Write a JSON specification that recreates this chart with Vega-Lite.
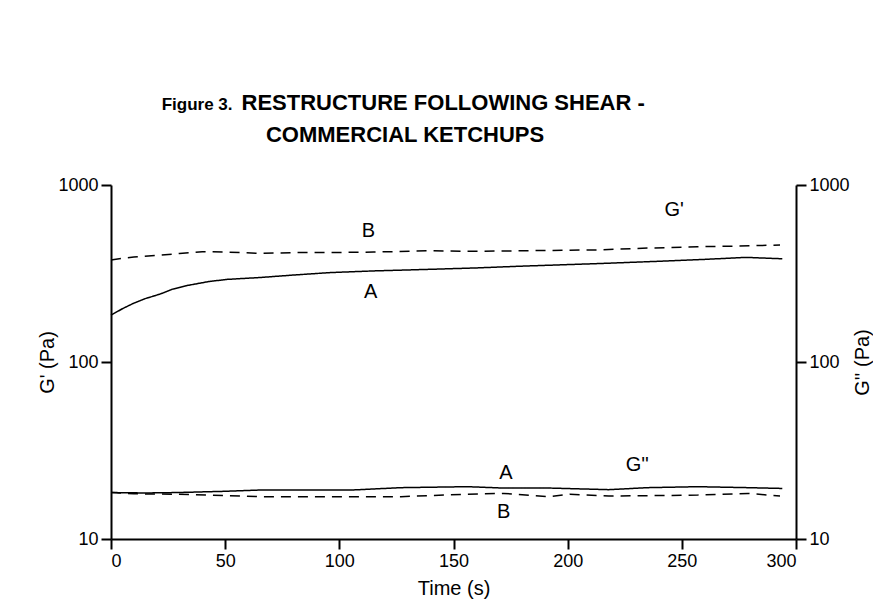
{
  "$schema": "https://vega.github.io/schema/vega-lite/v6.json",
  "width": 685,
  "height": 354,
  "autosize": {"type": "none"},
  "padding": {"left": 111, "top": 185, "right": 77, "bottom": 77},
  "background": "white",
  "config": {
    "view": {"stroke": null},
    "font": "Liberation Sans",
    "axis": {
      "domainColor": "black", "domainWidth": 2,
      "tickColor": "black", "tickWidth": 2, "tickSize": 10,
      "labelFont": "Liberation Sans", "labelFontSize": 18, "labelColor": "black", "labelPadding": 3,
      "titleFont": "Liberation Sans", "titleFontSize": 20, "titleFontWeight": "normal", "titleColor": "black",
      "grid": false
    }
  },
  "datasets": {
    "curves": [
      {"modulus": "storage", "sample": "A", "t": 0, "v": 184},
      {"modulus": "storage", "sample": "A", "t": 5, "v": 200},
      {"modulus": "storage", "sample": "A", "t": 10, "v": 215},
      {"modulus": "storage", "sample": "A", "t": 15, "v": 228},
      {"modulus": "storage", "sample": "A", "t": 21.5, "v": 242},
      {"modulus": "storage", "sample": "A", "t": 27, "v": 258},
      {"modulus": "storage", "sample": "A", "t": 33, "v": 270},
      {"modulus": "storage", "sample": "A", "t": 43, "v": 285},
      {"modulus": "storage", "sample": "A", "t": 51, "v": 293},
      {"modulus": "storage", "sample": "A", "t": 65, "v": 300},
      {"modulus": "storage", "sample": "A", "t": 80, "v": 310},
      {"modulus": "storage", "sample": "A", "t": 96, "v": 320},
      {"modulus": "storage", "sample": "A", "t": 115, "v": 327},
      {"modulus": "storage", "sample": "A", "t": 140, "v": 334},
      {"modulus": "storage", "sample": "A", "t": 160, "v": 340},
      {"modulus": "storage", "sample": "A", "t": 180, "v": 348},
      {"modulus": "storage", "sample": "A", "t": 200, "v": 355},
      {"modulus": "storage", "sample": "A", "t": 214, "v": 360},
      {"modulus": "storage", "sample": "A", "t": 243, "v": 372},
      {"modulus": "storage", "sample": "A", "t": 260, "v": 380},
      {"modulus": "storage", "sample": "A", "t": 278, "v": 390},
      {"modulus": "storage", "sample": "A", "t": 294, "v": 383},
      {"modulus": "storage", "sample": "B", "t": 0, "v": 377},
      {"modulus": "storage", "sample": "B", "t": 5, "v": 385},
      {"modulus": "storage", "sample": "B", "t": 10, "v": 392},
      {"modulus": "storage", "sample": "B", "t": 21.5, "v": 402},
      {"modulus": "storage", "sample": "B", "t": 30, "v": 410},
      {"modulus": "storage", "sample": "B", "t": 40, "v": 420},
      {"modulus": "storage", "sample": "B", "t": 50, "v": 418},
      {"modulus": "storage", "sample": "B", "t": 65, "v": 411},
      {"modulus": "storage", "sample": "B", "t": 80, "v": 415},
      {"modulus": "storage", "sample": "B", "t": 96, "v": 415},
      {"modulus": "storage", "sample": "B", "t": 115, "v": 418},
      {"modulus": "storage", "sample": "B", "t": 140, "v": 425},
      {"modulus": "storage", "sample": "B", "t": 160, "v": 422},
      {"modulus": "storage", "sample": "B", "t": 180, "v": 425},
      {"modulus": "storage", "sample": "B", "t": 200, "v": 428},
      {"modulus": "storage", "sample": "B", "t": 214, "v": 430},
      {"modulus": "storage", "sample": "B", "t": 235, "v": 440},
      {"modulus": "storage", "sample": "B", "t": 257, "v": 448},
      {"modulus": "storage", "sample": "B", "t": 275, "v": 452},
      {"modulus": "storage", "sample": "B", "t": 293, "v": 458},
      {"modulus": "loss", "sample": "A", "t": 0, "v": 18.3},
      {"modulus": "loss", "sample": "A", "t": 15, "v": 18.2},
      {"modulus": "loss", "sample": "A", "t": 29, "v": 18.3},
      {"modulus": "loss", "sample": "A", "t": 50, "v": 18.6},
      {"modulus": "loss", "sample": "A", "t": 65, "v": 18.9},
      {"modulus": "loss", "sample": "A", "t": 85, "v": 18.9},
      {"modulus": "loss", "sample": "A", "t": 105, "v": 18.9},
      {"modulus": "loss", "sample": "A", "t": 127, "v": 19.5},
      {"modulus": "loss", "sample": "A", "t": 156, "v": 19.75},
      {"modulus": "loss", "sample": "A", "t": 172, "v": 19.4},
      {"modulus": "loss", "sample": "A", "t": 192, "v": 19.4},
      {"modulus": "loss", "sample": "A", "t": 205, "v": 19.2},
      {"modulus": "loss", "sample": "A", "t": 218, "v": 19.0},
      {"modulus": "loss", "sample": "A", "t": 235, "v": 19.5},
      {"modulus": "loss", "sample": "A", "t": 257, "v": 19.75},
      {"modulus": "loss", "sample": "A", "t": 279, "v": 19.5},
      {"modulus": "loss", "sample": "A", "t": 294, "v": 19.3},
      {"modulus": "loss", "sample": "B", "t": 0, "v": 18.3},
      {"modulus": "loss", "sample": "B", "t": 10, "v": 18.0},
      {"modulus": "loss", "sample": "B", "t": 29, "v": 17.9},
      {"modulus": "loss", "sample": "B", "t": 50, "v": 17.6},
      {"modulus": "loss", "sample": "B", "t": 65, "v": 17.35},
      {"modulus": "loss", "sample": "B", "t": 105, "v": 17.35},
      {"modulus": "loss", "sample": "B", "t": 127, "v": 17.35},
      {"modulus": "loss", "sample": "B", "t": 156, "v": 17.9},
      {"modulus": "loss", "sample": "B", "t": 172, "v": 18.1},
      {"modulus": "loss", "sample": "B", "t": 192, "v": 17.35},
      {"modulus": "loss", "sample": "B", "t": 201, "v": 17.9},
      {"modulus": "loss", "sample": "B", "t": 218, "v": 17.5},
      {"modulus": "loss", "sample": "B", "t": 240, "v": 17.6},
      {"modulus": "loss", "sample": "B", "t": 257, "v": 17.7},
      {"modulus": "loss", "sample": "B", "t": 279, "v": 18.1},
      {"modulus": "loss", "sample": "B", "t": 293, "v": 17.5}
    ],
    "labels": [
      {"label": "B", "t": 112.7, "v": 552},
      {"label": "A", "t": 113.7, "v": 250},
      {"label": "G'", "t": 246.6, "v": 722},
      {"label": "A", "t": 173, "v": 23.5},
      {"label": "G''", "t": 230.5, "v": 26.2},
      {"label": "B", "t": 172, "v": 14.3}
    ]
  },
  "layer": [
    {
      "data": {"name": "curves"},
      "transform": [{"filter": "datum.modulus === 'storage'"}],
      "mark": {"type": "line", "color": "black", "strokeWidth": 1.5},
      "encoding": {
        "x": {"field": "t", "type": "quantitative", "scale": {"domain": [0, 300], "nice": false},
              "axis": {"values": [0, 50, 100, 150, 200, 250, 300], "title": "Time (s)", "titlePadding": 8}},
        "y": {"field": "v", "type": "quantitative", "scale": {"type": "log", "domain": [10, 1000], "nice": false},
              "axis": {"orient": "left", "values": [10, 100, 1000], "format": "d", "title": "G' (Pa)", "titlePadding": 0}},
        "strokeDash": {"field": "sample", "type": "nominal",
                       "scale": {"domain": ["A", "B"], "range": [[1, 0], [10, 7]]}, "legend": null}
      }
    },
    {
      "data": {"name": "curves"},
      "transform": [{"filter": "datum.modulus === 'loss'"}],
      "mark": {"type": "line", "color": "black", "strokeWidth": 1.5},
      "encoding": {
        "x": {"field": "t", "type": "quantitative",
              "axis": {"orient": "top", "domain": false, "ticks": false, "labels": false,
                       "title": "Figure 3.", "titleX": 121, "titleY": -76, "titleAlign": "right",
                       "titleBaseline": "alphabetic", "titleAngle": 0, "titleFontSize": 17, "titleFontWeight": "bold"}},
        "y": {"field": "v", "type": "quantitative",
              "axis": {"orient": "right", "values": [10, 100, 1000], "format": "d", "title": "G'' (Pa)",
                       "titleAngle": 270, "titleBaseline": "top", "titlePadding": 3}},
        "strokeDash": {"field": "sample", "type": "nominal", "legend": null}
      }
    },
    {
      "data": {"name": "labels"},
      "mark": {"type": "text", "fontSize": 20, "font": "Liberation Sans", "color": "black", "align": "center", "baseline": "middle"},
      "encoding": {
        "x": {"field": "t", "type": "quantitative",
              "axis": {"orient": "top", "domain": false, "ticks": false, "labels": false,
                       "title": ["RESTRUCTURE FOLLOWING SHEAR -", "\u200b\u00a0\u00a0\u00a0\u00a0COMMERCIAL KETCHUPS"],
                       "titleX": 130, "titleY": -76, "titleAlign": "left", "titleBaseline": "alphabetic",
                       "titleAngle": 0, "titleFontSize": 22, "titleFontWeight": "bold", "titleLineHeight": 32}},
        "y": {"field": "v", "type": "quantitative", "axis": null},
        "text": {"field": "label", "type": "nominal"}
      }
    }
  ],
  "resolve": {"axis": {"x": "independent", "y": "independent"}}
}
